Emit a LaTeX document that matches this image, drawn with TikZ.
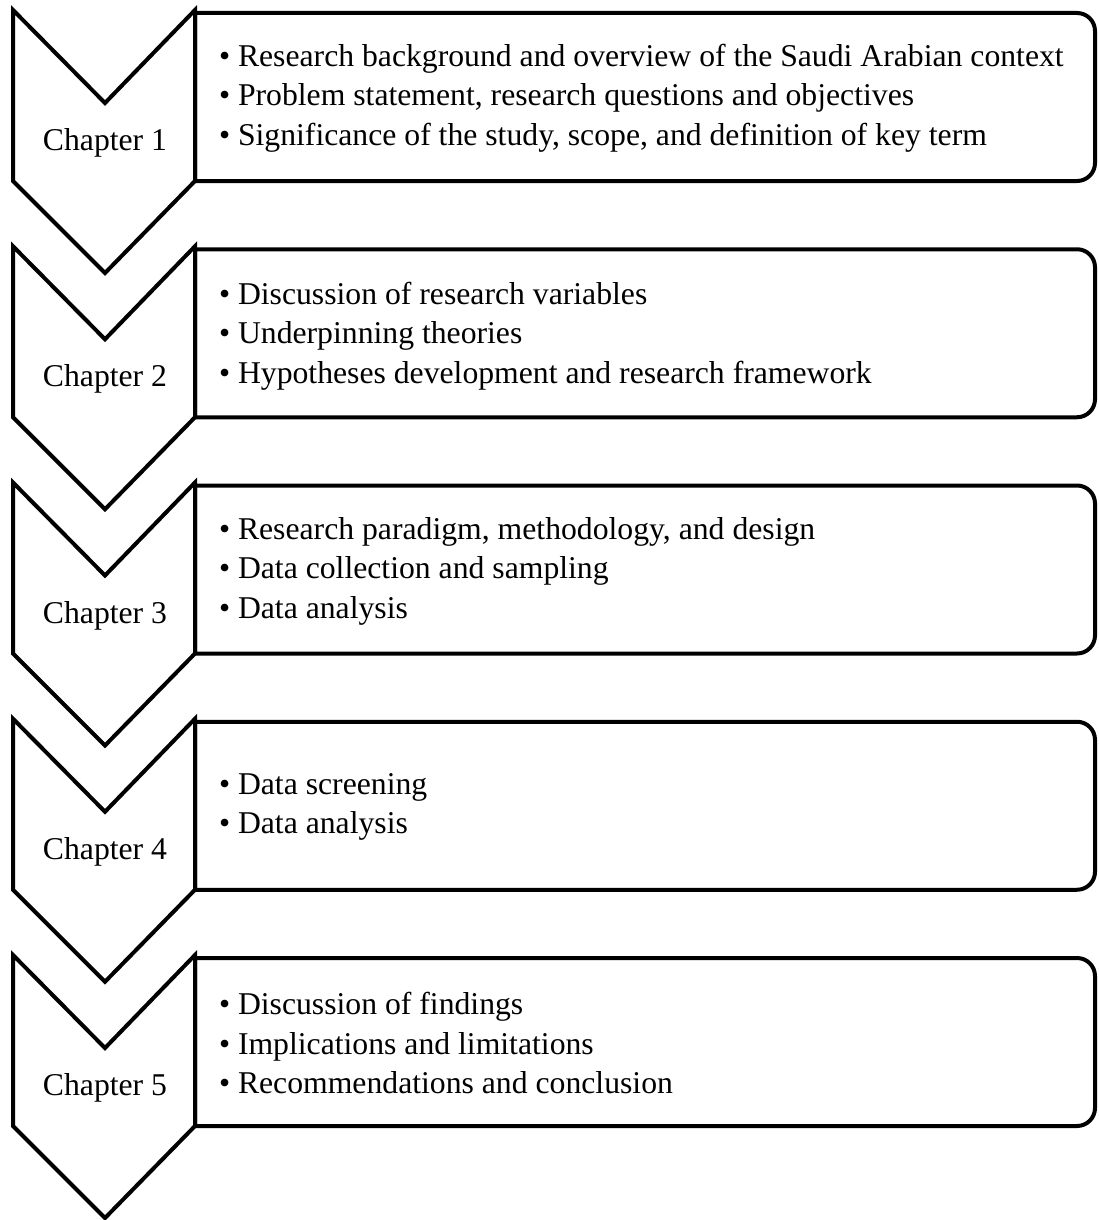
\documentclass[tikz,border=0pt]{standalone}
\usepackage{fontspec}
\setmainfont{Liberation Serif}
\tikzstyle{every path}+=[line width=4pt]
\tikzstyle{chevron}=[draw, line join=miter]
\tikzstyle{itembox}=[draw, line join=miter]
\tikzstyle{chaplabel}=[inner sep=0pt, font=\fontsize{31.7}{38}\selectfont]
\tikzstyle{itemlist}=[inner sep=0pt, anchor=west, align=left, font=\fontsize{31.7}{39.5}\selectfont]

\begin{document}
\begin{tikzpicture}[x=1pt,y=-1pt]
\useasboundingbox (0,0) rectangle (1099,1220);

\foreach \i in {0,...,4} {
  \pgfmathsetmacro{\T}{10+236.25*\i}
  \pgfmathtruncatemacro{\n}{\i+1}
  \draw[chevron] (13,\T) -- (105,\T+93) -- (195,\T) -- (195,\T+171)
    -- (105,\T+263) -- (13,\T+171) -- cycle;
  \draw[itembox] (195,\T+3) -- (1077,\T+3) arc[start angle=-90, end angle=0, radius=18]
    -- (1095,\T+153) arc[start angle=0, end angle=90, radius=18] -- (195,\T+171) -- cycle;
  \node[chaplabel] (ch\n) at (105,\T+133) {Chapter \n};
}

\node[itemlist] (l1) at (217,98) {\textbullet\ Research background and overview of the Saudi Arabian context\\
\textbullet\ Problem statement, research questions and objectives\\
\textbullet\ Significance of the study, scope, and definition of key term};
\node[itemlist] (l2) at (217,336) {\textbullet\ Discussion of research variables\\
\textbullet\ Underpinning theories\\
\textbullet\ Hypotheses development and research framework};
\node[itemlist] (l3) at (217,571) {\textbullet\ Research paradigm, methodology, and design\\
\textbullet\ Data collection and sampling\\
\textbullet\ Data analysis};
\node[itemlist] (l4) at (217,807) {\textbullet\ Data screening\\
\textbullet\ Data analysis};
\node[itemlist] (l5) at (217,1043) {\textbullet\ Discussion of findings\\
\textbullet\ Implications and limitations\\
\textbullet\ Recommendations and conclusion};
\end{tikzpicture}
\end{document}
